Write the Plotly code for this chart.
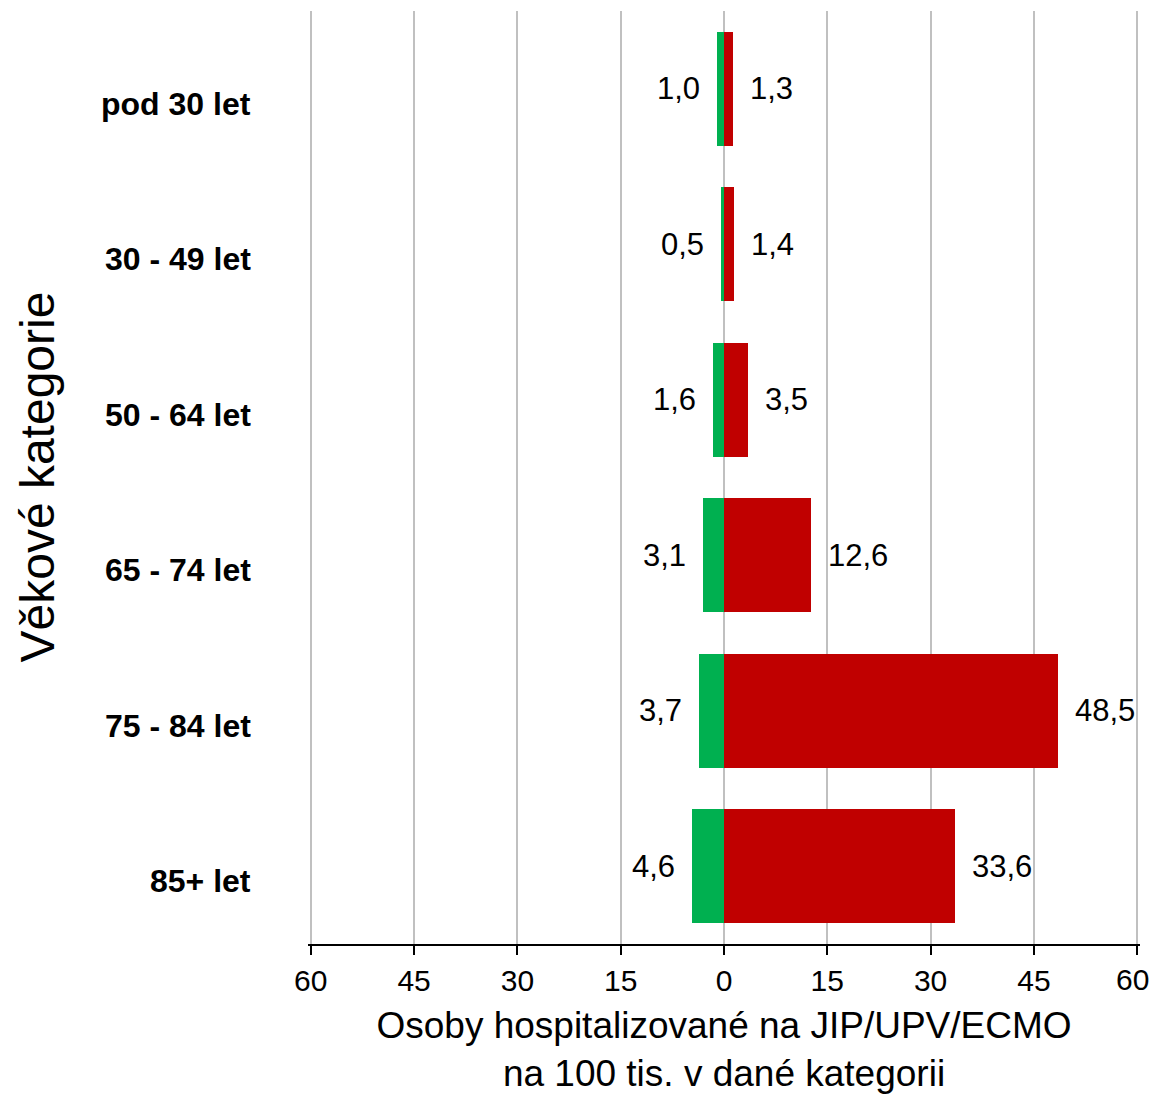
import plotly.graph_objects as go

# Age groups and ICU hospitalisation rates per 100k
categories = ["pod 30 let", "30 - 49 let", "50 - 64 let", "65 - 74 let", "75 - 84 let", "85+ let"]
left_values = [1.0, 0.5, 1.6, 3.1, 3.7, 4.6]      # green, drawn to the left
right_values = [1.3, 1.4, 3.5, 12.6, 48.5, 33.6]  # red, drawn to the right
tick_values = [-60, -45, -30, -15, 0, 15, 30, 45, 60]
tick_labels = ["60", "45", "30", "15", "0", "15", "30", "45", "60"]

FONT = "Liberation Sans, Arial, sans-serif"
GREEN = "#00b050"
RED = "#c00000"


def fmt(v):
    return f"{v:.1f}".replace(".", ",")


fig = go.Figure()
fig.add_trace(go.Bar(
    y=categories, x=[-v for v in left_values], orientation="h",
    marker=dict(color=GREEN, line=dict(width=0)), width=0.73,
    showlegend=False, hoverinfo="skip",
))
fig.add_trace(go.Bar(
    y=categories, x=right_values, orientation="h",
    marker=dict(color=RED, line=dict(width=0)), width=0.73,
    showlegend=False, hoverinfo="skip",
))

# Value labels beside the bar ends
for cat, lv, rv in zip(categories, left_values, right_values):
    fig.add_annotation(x=-lv, y=cat, text=fmt(lv), showarrow=False,
                       xanchor="right", xshift=-15,
                       font=dict(family=FONT, size=31, color="black"))
    fig.add_annotation(x=rv, y=cat, text=fmt(rv), showarrow=False,
                       xanchor="left", xshift=15,
                       font=dict(family=FONT, size=31, color="black"))

# Category labels, set a little below each bar centre
for cat in categories:
    fig.add_annotation(xref="paper", x=-0.0661, y=cat, yshift=-15, text=cat,
                       showarrow=False, xanchor="right", yanchor="middle",
                       font=dict(family=FONT, size=32, color="black", weight="bold"))

# Last x tick label, nudged left so it stays inside the page
fig.add_annotation(x=tick_values[-1], yref="paper", y=0, yshift=-35, xshift=-5,
                   text=tick_labels[-1], showarrow=False,
                   xanchor="center", yanchor="middle",
                   font=dict(family=FONT, size=30, color="black"))

# Vertical axis title
fig.add_annotation(xref="paper", yref="paper", x=-0.3257, y=0.5,
                   text="Věkové kategorie", textangle=-90, showarrow=False,
                   xanchor="center", yanchor="middle",
                   font=dict(family=FONT, size=48, color="black"))

fig.update_layout(
    width=1151, height=1094,
    margin=dict(l=308, r=11, t=11, b=150, autoexpand=False),
    paper_bgcolor="white", plot_bgcolor="white",
    barmode="relative", bargap=0,
    font=dict(family=FONT, color="black"),
    xaxis=dict(
        range=[-60.4, 60.4], tickmode="array", tickvals=tick_values,
        ticktext=tick_labels[:-1] + [""],
        showgrid=True, gridcolor="#c0c0c0", gridwidth=2, zeroline=False,
        showline=True, linecolor="black", linewidth=2,
        ticks="outside", ticklen=9, tickwidth=2, tickcolor="black",
        tickfont=dict(family=FONT, size=30, color="black"),
        ticklabeloverflow="allow", automargin=False,
        title=dict(text="Osoby hospitalizované na JIP/UPV/ECMO<br>na 100 tis. v dané kategorii",
                   font=dict(family=FONT, size=37, color="black"), standoff=28),
        fixedrange=True,
    ),
    yaxis=dict(
        categoryorder="array", categoryarray=categories, autorange="reversed",
        showgrid=False, zeroline=False, showline=False, ticks="",
        showticklabels=False, automargin=False,
        fixedrange=True,
    ),
)

fig.write_html("out.html")
